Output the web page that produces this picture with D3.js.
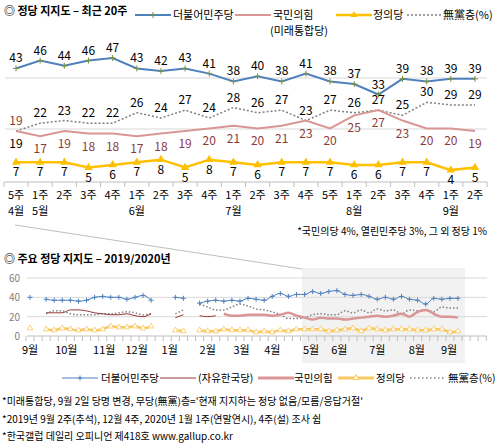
<!DOCTYPE html>
<html><head><meta charset="utf-8">
<script src="https://cdn.jsdelivr.net/npm/d3@7"></script>
<style>body{margin:0;background:#fff}svg{font-family:"Noto Sans CJK KR","Noto Sans",sans-serif}</style>
</head><body><svg id="c" width="497" height="447"></svg>
<script>
// ---- top chart data (recent 20 weeks)
const weeks = ["5주","1주","2주","3주","4주","1주","2주","3주","4주","1주","2주","3주","4주","5주","1주","2주","3주","4주","1주","2주"];
const months = [[0,"4월"],[1,"5월"],[5,"6월"],[9,"7월"],[14,"8월"],[18,"9월"]];
const minjoo = [43,46,44,46,47,43,42,43,41,38,40,38,41,38,37,33,39,38,39,39];
const ppp    = [19,17,19,18,18,17,18,19,20,21,20,21,23,20,25,27,23,20,20,19];
const justice= [7,7,7,5,6,7,8,5,8,7,6,7,7,7,6,6,7,7,4,5];
const indep  = [19,22,23,22,22,26,24,27,24,28,26,27,23,27,26,27,25,30,29,29];
// ---- bottom chart data (weekly, 2019 Sep wk1 .. 2020 Sep wk2; null = no survey)
const N=null;
const bMinjoo = [40,N,38,37,37,37,36,37,40,41,40,40,38,40,42,37,N,N,40,39,N,34,36,37,36,37,36,39,38,37,41,44,41,43].concat(minjoo);
const bLkp    = [N,N,24,24,24,27,27,26,24,23,22,22,23,21,20,23,N,N,19,22,N,21,20,21];
const bPpp    = [N,N,N,N,N,N,N,N,N,N,N,N,N,N,N,N,N,N,N,N,N,N,N,N,23,21,21,22,22,22,21,22,24,21].concat(ppp);
const bJustice= [8,N,7,6,8,7,6,7,6,7,10,9,9,10,8,10,N,N,6,5,N,6,5,5,7,6,6,6,4,5,4,6,5,7].concat(justice);
const bIndep  = [N,N,23,26,26,23,22,22,22,23,23,24,25,24,22,23,N,N,23,27,N,33,30,27,27,30,33,31,28,27,25,22,18,18].concat(indep);
const bMonths = [[0,"9월"],[4.5,"10월"],[9.2,"11월"],[13.2,"12월"],[17.3,"1월"],[22,"2월"],[26.2,"3월"],[30,"4월"],[34.8,"5월"],[38.3,"6월"],[43,"7월"],[47.9,"8월"],[51.9,"9월"]];
const bYTicks=[0,20,40,60];

const svg=d3.select("#c");
const C={blue:"#4f81bd",mk:"#77933c",red:"#d99694",yel:"#ffc000",gray:"#808080",dred:"#953735",yel2:"#fac860"};
const plus=s=>`M${-s},0H${s}M0,${-s}V${s}`;

// ===== top chart
svg.append("text").attr("x",4).attr("y",15).attr("font-size",11).attr("font-weight","bold").text("◎  정당 지지도 – 최근 20주");
const x=d3.scalePoint().domain(d3.range(20)).range([16,475]);
const y=d3.scaleLinear().domain([19,47]).range([131,58]);
[78,129].forEach(g=>svg.append("line").attr("x1",5).attr("x2",487).attr("y1",g).attr("y2",g).attr("stroke","#d9d9d9"));
const axisG=svg.append("g").attr("transform","translate(0,182)");
axisG.append("line").attr("x1",4).attr("x2",487).attr("stroke","#bfbfbf");
const step=x.step();
d3.range(21).forEach(i=>axisG.append("line").attr("x1",x(0)-step/2+i*step).attr("x2",x(0)-step/2+i*step).attr("y1",0).attr("y2",5).attr("stroke","#bfbfbf"));
weeks.forEach((w,i)=>svg.append("text").attr("x",x(i)).attr("y",199).attr("text-anchor","middle").attr("font-size",11).text(w));
months.forEach(([i,m])=>svg.append("text").attr("x",x(i)).attr("y",215).attr("text-anchor","middle").attr("font-size",11).text(m));
const line=d3.line().x((d,i)=>x(i)).y(d=>y(d));
svg.append("path").attr("d",line(indep)).attr("fill","none").attr("stroke",C.gray).attr("stroke-width",1.5).attr("stroke-dasharray","2,2");
svg.append("path").attr("d",line(ppp)).attr("fill","none").attr("stroke",C.red).attr("stroke-width",2);
svg.append("path").attr("d",line(minjoo)).attr("fill","none").attr("stroke",C.blue).attr("stroke-width",2);
svg.append("path").attr("d",line(justice)).attr("fill","none").attr("stroke",C.yel).attr("stroke-width",2.5);
minjoo.forEach((v,i)=>{svg.append("path").attr("d",plus(3)).attr("transform",`translate(${x(i)},${y(v)})`).attr("fill","none").attr("stroke",C.mk).attr("stroke-width",1);
 svg.append("text").attr("x",x(i)).attr("y",y(v)-6).attr("text-anchor","middle").attr("font-size",12).text(v);});
justice.forEach((v,i)=>{svg.append("path").attr("d",d3.symbol(d3.symbolTriangle,30)()).attr("transform",`translate(${x(i)},${y(v)})`).attr("fill",C.yel);
 svg.append("text").attr("x",x(i)).attr("y",y(v)+14).attr("text-anchor","middle").attr("font-size",12).text(v);});
indep.forEach((v,i)=>svg.append("text").attr("x",x(i)).attr("y",i==0?y(v)+17:y(v)-6).attr("text-anchor","middle").attr("font-size",12).text(v));
ppp.forEach((v,i)=>svg.append("text").attr("x",x(i)).attr("y",i==0?y(v)-6:y(v)+17).attr("text-anchor","middle").attr("font-size",12).attr("fill","#8b3a3a").text(v));
// top legend
function leg(x1,yy,col,w,dash,txt,tx){svg.append("line").attr("x1",x1).attr("x2",x1+36).attr("y1",yy).attr("y2",yy).attr("stroke",col).attr("stroke-width",w).attr("stroke-dasharray",dash);svg.append("text").attr("x",tx).attr("y",yy+4).attr("font-size",11).text(txt);}
leg(135,15,C.blue,2,null,"더불어민주당",173);
svg.append("path").attr("d",plus(3)).attr("transform","translate(153,15)").attr("fill","none").attr("stroke",C.mk);
leg(235,15,C.red,2,null,"국민의힘",273);
svg.append("text").attr("x",270).attr("y",35).attr("font-size",11).text("(미래통합당)");
leg(336,15,C.yel,2.5,null,"정의당",373);
svg.append("path").attr("d",d3.symbol(d3.symbolTriangle,22)()).attr("transform","translate(354,15)").attr("fill",C.yel);
leg(407,15,C.gray,1.5,"2,2","無黨층(%)",443);
svg.append("text").attr("x",487).attr("y",235).attr("text-anchor","end").attr("font-size",10).text("*국민의당 4%, 열린민주당 3%, 그 외 정당 1%");

// ===== bottom chart
const bx=d3.scaleLinear().domain([0,53]).range([30,458]);
const by=d3.scaleLinear().domain([0,60]).range([336,278]);
svg.append("line").attr("x1",15).attr("y1",225).attr("x2",302).attr("y2",269).attr("stroke","#bfbfbf");
svg.append("rect").attr("x",302).attr("y",268).attr("width",163).attr("height",95).attr("fill","#f2f2f2");
svg.append("text").attr("x",4).attr("y",263).attr("font-size",11).attr("font-weight","bold").text("◎  주요 정당 지지도 – 2019/2020년");
bYTicks.forEach(t=>{if(t>0)svg.append("line").attr("x1",27).attr("x2",487).attr("y1",by(t)).attr("y2",by(t)).attr("stroke","#d9d9d9");
 svg.append("text").attr("x",20).attr("y",by(t)+4).attr("text-anchor","end").attr("font-size",10).attr("fill","#808080").text(t);});
svg.append("line").attr("x1",27).attr("x2",487).attr("y1",by(0)).attr("y2",by(0)).attr("stroke","#bfbfbf");
d3.range(-0.5,57,1).forEach(i=>svg.append("line").attr("x1",bx(i)).attr("x2",bx(i)).attr("y1",by(0)).attr("y2",by(0)+5).attr("stroke","#bfbfbf"));
bMonths.forEach(([i,m])=>svg.append("text").attr("x",bx(i)).attr("y",354).attr("text-anchor","middle").attr("font-size",11).text(m));
const bl=d3.line().defined(d=>d!=null).x((d,i)=>bx(i)).y(d=>by(d)).curve(d3.curveMonotoneX);
svg.append("path").attr("d",bl(bIndep)).attr("fill","none").attr("stroke",C.gray).attr("stroke-width",1.5).attr("stroke-dasharray","1.5,2");
svg.append("path").attr("d",bl(bLkp)).attr("fill","none").attr("stroke",C.dred).attr("stroke-width",1);
svg.append("path").attr("d",bl(bPpp)).attr("fill","none").attr("stroke",C.red).attr("stroke-width",2.5);
svg.append("path").attr("d",bl(bJustice)).attr("fill","none").attr("stroke",C.yel2).attr("stroke-width",2.5);
svg.append("path").attr("d",bl(bMinjoo)).attr("fill","none").attr("stroke",C.blue).attr("stroke-width",1);
bMinjoo.forEach((v,i)=>{if(v!=null)svg.append("path").attr("d",plus(2.5)).attr("transform",`translate(${bx(i)},${by(v)})`).attr("fill","none").attr("stroke",C.blue).attr("stroke-width",1);});
bJustice.forEach((v,i)=>{if(v!=null)svg.append("path").attr("d",d3.symbol(d3.symbolTriangle,14)()).attr("transform",`translate(${bx(i)},${by(v)})`).attr("fill","#fff").attr("stroke",C.yel2).attr("stroke-width",0.8);});
function leg2(x1,col,w,dash,txt,tx){svg.append("line").attr("x1",x1).attr("x2",x1+36).attr("y1",378).attr("y2",378).attr("stroke",col).attr("stroke-width",w).attr("stroke-dasharray",dash);svg.append("text").attr("x",tx).attr("y",382).attr("font-size",10.5).text(txt);}
leg2(62,C.blue,1,null,"더불어민주당",101);
svg.append("path").attr("d",plus(2.5)).attr("transform","translate(80,378)").attr("fill","none").attr("stroke",C.blue);
leg2(160,C.dred,1,null,"(자유한국당)",198);
leg2(258,C.red,3,null,"국민의힘",294);
leg2(338,C.yel2,3,null,"정의당",376);
svg.append("path").attr("d",d3.symbol(d3.symbolTriangle,14)()).attr("transform","translate(356,378)").attr("fill","#fff").attr("stroke",C.yel2);
leg2(410,C.gray,1.5,"1.5,2.5","無黨층(%)",448);
["*미래통합당, 9월 2일 당명 변경, 무당(無黨)층='현재 지지하는 정당 없음/모름/응답거절'",
 "*2019년 9월 2주(추석), 12월 4주, 2020년 1월 1주(연말연시), 4주(설) 조사 쉼",
 "*한국갤럽 데일리 오피니언 제418호 www.gallup.co.kr"].forEach((t,i)=>svg.append("text").attr("x",2).attr("y",405+i*17.5).attr("font-size",10).text(t));
</script></body></html>
